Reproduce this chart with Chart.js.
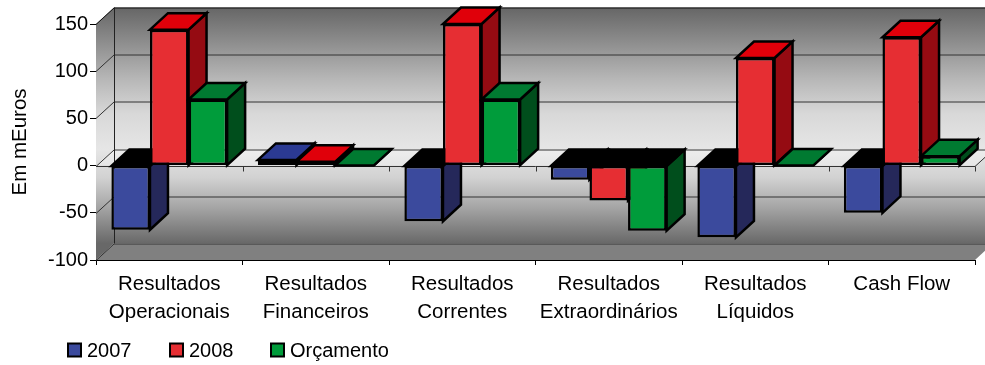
<!DOCTYPE html>
<html>
<head>
<meta charset="utf-8">
<title>Resultados</title>
<script src="https://cdn.jsdelivr.net/npm/chart.js@4.4.1/dist/chart.umd.min.js"></script>
<style>
  html, body { margin: 0; padding: 0; background: #fff; }
</style>
</head>
<body>
<canvas id="grafico" width="985" height="365"></canvas>
<script>
// dados do gráfico (mEuros)
const categorias = [
    ['Resultados', 'Operacionais'],
    ['Resultados', 'Financeiros'],
    ['Resultados', 'Correntes'],
    ['Resultados', 'Extraordinários'],
    ['Resultados', 'Líquidos'],
    'Cash Flow'
];
const series = ['2007', '2008', 'Orçamento'];
const valores2007 = [-68, 6, -59, -15, -76, -50];
const valores2008 = [144, 4, 150, -37, 114, 136];
const valoresOrcamento = [70, 0, 70, -69, 0, 10];
const ticksY = [-100, -50, 0, 50, 100, 150];

// cores: frente, topo, lado
const coresFrente = ['#3b4a9d', '#e62e33', '#009c3b'];
const coresTopo = ['#2b3a93', '#e0000a', '#007a31'];
const coresLado = ['#25285a', '#950b12', '#004e1c'];

// deslocamento da profundidade 3D
const DX = 18;
const DY = -16.5;

const FONTE = "'Liberation Sans', Arial, sans-serif";
Chart.defaults.font.family = FONTE;
Chart.defaults.font.size = 20;
Chart.defaults.color = '#000';

function poligono(ctx, pts, fill, stroke, lw) {
    ctx.beginPath();
    ctx.moveTo(pts[0][0], pts[0][1]);
    for (let i = 1; i < pts.length; i++) ctx.lineTo(pts[i][0], pts[i][1]);
    ctx.closePath();
    if (fill) { ctx.fillStyle = fill; ctx.fill(); }
    if (stroke) { ctx.strokeStyle = stroke; ctx.lineWidth = lw || 1; ctx.stroke(); }
}

// paredes, chão, grelha e faces laterais/topo das barras
const efeito3D = {
    id: 'efeito3D',
    beforeDatasetsDraw(chart) {
        const ctx = chart.ctx;
        const area = chart.chartArea;
        const y = chart.scales.y;
        const yTopo = y.getPixelForValue(ticksY[ticksY.length - 1]);
        const yBase = y.getPixelForValue(ticksY[0]);
        const y0 = y.getPixelForValue(0);
        const esq = area.left, dir = area.right;

        ctx.save();
        const grad = ctx.createLinearGradient(0, yTopo + DY, 0, yBase + DY);
        grad.addColorStop(0, '#666666');
        grad.addColorStop(0.12, '#868686');
        grad.addColorStop(0.3, '#b6b6b6');
        grad.addColorStop(0.45, '#d8d8d8');
        grad.addColorStop(0.6, '#e6e6e6');
        grad.addColorStop(0.72, '#d2d2d2');
        grad.addColorStop(0.85, '#a4a4a4');
        grad.addColorStop(1, '#686868');

        // parede do fundo
        poligono(ctx, [[esq + DX, yTopo + DY], [dir + DX, yTopo + DY], [dir + DX, yBase + DY], [esq + DX, yBase + DY]], grad);
        // parede lateral
        poligono(ctx, [[esq, yTopo], [esq + DX, yTopo + DY], [esq + DX, yBase + DY], [esq, yBase]], grad);
        // chão
        poligono(ctx, [[esq, yBase], [esq + DX, yBase + DY], [dir + DX, yBase + DY], [dir, yBase]], '#808080');
        // plano do zero
        poligono(ctx, [[esq, y0], [esq + DX, y0 + DY], [dir + DX, y0 + DY], [dir, y0]], 'rgba(255,255,255,0.3)');

        // linhas da grelha
        ctx.lineWidth = 1;
        ticksY.forEach(v => {
            const py = Math.round(y.getPixelForValue(v)) + 0.5;
            ctx.strokeStyle = v === ticksY[ticksY.length - 1] ? '#111' : '#333';
            ctx.beginPath();
            ctx.moveTo(esq, py);
            ctx.lineTo(esq + DX, py + DY);
            ctx.lineTo(dir + DX, py + DY);
            ctx.stroke();
        });
        ctx.strokeStyle = '#222';
        ctx.beginPath();
        ctx.moveTo(esq + DX + 0.5, yTopo + DY);
        ctx.lineTo(esq + DX + 0.5, yBase + DY);
        ctx.stroke();

        // eixo das categorias no zero
        const pz = Math.round(y0) + 0.5;
        ctx.strokeStyle = '#333';
        ctx.beginPath();
        ctx.moveTo(esq, pz);
        ctx.lineTo(dir, pz);
        ctx.lineTo(dir + DX, pz + DY);
        ctx.stroke();
        const passo = (dir - esq) / categorias.length;
        for (let i = 1; i <= categorias.length; i++) {
            const px = Math.round(esq + passo * i) + 0.5;
            ctx.beginPath();
            ctx.moveTo(px, pz);
            ctx.lineTo(px, pz + 5);
            ctx.stroke();
        }

        // faces de topo e laterais, série a série
        chart.data.datasets.forEach((ds, i) => {
            const meta = chart.getDatasetMeta(i);
            meta.data.forEach((bar, j) => {
                const v = ds.data[j];
                const l = bar.x - bar.width / 2;
                const r = bar.x + bar.width / 2;
                const top = Math.min(bar.y, bar.base);
                const bot = Math.max(bar.y, bar.base);
                poligono(ctx, [[r, top], [r + DX, top + DY], [r + DX, bot + DY], [r, bot]], coresLado[i], '#000', 2.5);
                const corTopo = v >= 0 ? coresTopo[i] : '#000';
                poligono(ctx, [[l, top], [r, top], [r + DX, top + DY], [l + DX, top + DY]], corTopo, '#000', 2.5);
            });
        });
        ctx.restore();
    },
    afterDraw(chart) {
        // legenda
        const ctx = chart.ctx;
        const posX = [67, 169, 270];
        const cy = 350;
        ctx.save();
        ctx.font = '20px ' + FONTE;
        ctx.textBaseline = 'middle';
        chart.data.datasets.forEach((ds, i) => {
            ctx.fillStyle = '#000';
            ctx.fillRect(posX[i], cy - 7.5, 15, 15);
            ctx.fillStyle = ds.backgroundColor;
            ctx.fillRect(posX[i] + 2, cy - 5.5, 11, 11);
            ctx.fillStyle = '#000';
            ctx.fillText(ds.label, posX[i] + 20, cy + 1);
        });
        ctx.restore();
    }
};

const ctx = document.getElementById('grafico').getContext('2d');
const grafico = new Chart(ctx, {
    type: 'bar',
    data: {
        labels: categorias,
        datasets: [
            { label: series[0], data: valores2007, backgroundColor: coresFrente[0] },
            { label: series[1], data: valores2008, backgroundColor: coresFrente[1] },
            { label: series[2], data: valoresOrcamento, backgroundColor: coresFrente[2] }
        ]
    },
    options: {
        responsive: false,
        animation: false,
        devicePixelRatio: 1,
        layout: { padding: { top: 24, right: 10, left: 0, bottom: 0 } },
        datasets: {
            bar: {
                categoryPercentage: 0.79,
                barPercentage: 1.0,
                borderColor: '#000',
                borderWidth: 2.5,
                borderSkipped: false
            }
        },
        plugins: {
            legend: { display: false },
            tooltip: { enabled: false }
        },
        scales: {
            x: {
                afterFit(scale) { scale.height = 105; },
                grid: { drawOnChartArea: false, color: '#000', tickLength: 5, offset: true },
                border: { color: '#000', width: 1 },
                ticks: { padding: 6, font: { size: 20.5, lineHeight: 1.34 }, maxRotation: 0 }
            },
            y: {
                min: -100,
                max: 150,
                afterFit(scale) { scale.width = 96; },
                grid: { drawOnChartArea: false, color: '#000', tickLength: 6 },
                border: { color: '#000', width: 1 },
                ticks: { stepSize: 50, padding: 2, font: { size: 20 } },
                title: {
                    display: true,
                    text: 'Em mEuros',
                    font: { size: 20.5 },
                    padding: { top: 8, bottom: 0 }
                }
            }
        }
    },
    plugins: [efeito3D]
});
</script>
</body>
</html>
